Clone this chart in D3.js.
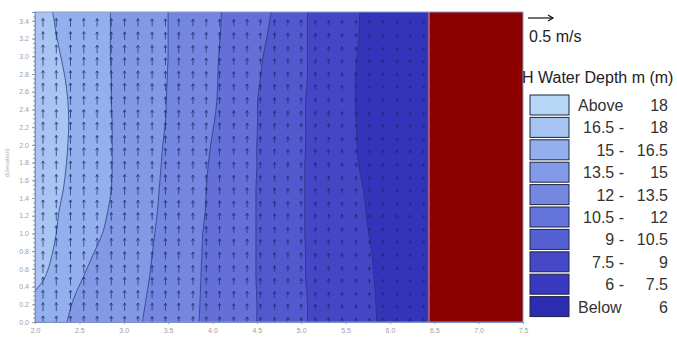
<!DOCTYPE html>
<html>
<head>
<meta charset="utf-8">
<script src="https://cdn.jsdelivr.net/npm/d3@7"></script>
<style>
  body { margin: 0; background: #fff; }
  svg { display: block; font-family: "Liberation Sans", Arial, sans-serif; }
</style>
</head>
<body>
<svg id="chart" width="677" height="337"></svg>
<script>
// elevation levels where contour positions were read
const yLevels = [0, 0.25, 0.5, 0.75, 1.0, 1.25, 1.5, 1.75, 2.0, 2.25, 2.5, 2.75, 3.0, 3.25, 3.5];

// x position of each contour (water depth) at the levels above
const c165 = [1.89, 1.94, 2.11, 2.19, 2.24, 2.27, 2.32, 2.35, 2.37, 2.38, 2.37, 2.34, 2.29, 2.24, 2.20];
const c15  = [2.36, 2.43, 2.54, 2.65, 2.76, 2.82, 2.86, 2.87, 2.87, 2.87, 2.86, 2.86, 2.85, 2.85, 2.85];
const c135 = [3.21, 3.25, 3.29, 3.32, 3.35, 3.38, 3.40, 3.42, 3.44, 3.47, 3.48, 3.49, 3.50, 3.50, 3.50];
const c12  = [3.85, 3.86, 3.87, 3.88, 3.89, 3.92, 3.93, 3.95, 3.98, 4.02, 4.05, 4.06, 4.07, 4.09, 4.10];
const c105 = [4.50, 4.50, 4.49, 4.49, 4.49, 4.49, 4.49, 4.50, 4.50, 4.51, 4.51, 4.54, 4.57, 4.62, 4.66];
const c9   = [5.07, 5.07, 5.05, 5.05, 5.04, 5.04, 5.04, 5.04, 5.05, 5.05, 5.05, 5.07, 5.07, 5.07, 5.07];
const c75  = [5.85, 5.84, 5.82, 5.80, 5.76, 5.73, 5.70, 5.65, 5.63, 5.62, 5.61, 5.61, 5.63, 5.65, 5.66];
const dryEdge = 6.44;

// bands between contours, from left (deep) to right
const bandColors = ["#a8c5f1", "#94b0ec", "#8399e6", "#7486df", "#6470d8", "#5259ce", "#4446c6", "#3434ba"];

// velocity vector grid
const vecX = [2.09, 2.24, 2.40, 2.55, 2.70, 2.86, 3.01, 3.16, 3.32, 3.47, 3.62, 3.78, 3.93, 4.08, 4.24,
              4.39, 4.54, 4.70, 4.85, 5.00, 5.16, 5.31, 5.46, 5.62, 5.77, 5.92, 6.08, 6.23, 6.38];
const vecSpeed = [0.17, 0.17, 0.17, 0.17, 0.16, 0.16, 0.16, 0.16, 0.15, 0.15, 0.15, 0.14, 0.14, 0.14, 0.13,
                  0.13, 0.12, 0.12, 0.11, 0.11, 0.10, 0.10, 0.09, 0.09, 0.08, 0.08, 0.07, 0.07, 0.06];
const vecY = [0.02, 0.17, 0.31, 0.46, 0.60, 0.75, 0.90, 1.04, 1.19, 1.33, 1.48, 1.62, 1.77, 1.92,
              2.06, 2.21, 2.35, 2.50, 2.65, 2.79, 2.94, 3.08, 3.23, 3.38];

const xTicks = [2.0, 2.5, 3.0, 3.5, 4.0, 4.5, 5.0, 5.5, 6.0, 6.5, 7.0, 7.5];
const yTicks = [0.0, 0.2, 0.4, 0.6, 0.8, 1.0, 1.2, 1.4, 1.6, 1.8, 2.0, 2.2, 2.4, 2.6, 2.8, 3.0, 3.2, 3.4];

const legendLo = ["Above", "16.5 -", "15 -", "13.5 -", "12 -", "10.5 -", "9 -", "7.5 -", "6 -", "Below"];
const legendHi = ["18", "18", "16.5", "15", "13.5", "12", "10.5", "9", "7.5", "6"];
const legendColors = ["#b6d6f5", "#a6c4f1", "#94b0ec", "#839be6", "#7488e0", "#6473da", "#5460d2", "#4549c8", "#383abe", "#2c2cb2"];

const svg = d3.select("#chart");
const x = d3.scaleLinear().domain([2, 7.5]).range([35, 523]);
const y = d3.scaleLinear().domain([0, 3.5]).range([322, 12]);

svg.append("defs").append("clipPath").attr("id", "plot")
  .append("rect")
  .attr("x", x(2)).attr("y", y(3.5))
  .attr("width", x(7.5) - x(2)).attr("height", y(0) - y(3.5));

const g = svg.append("g").attr("clip-path", "url(#plot)");

// base (deepest) band
g.append("rect")
  .attr("x", x(2)).attr("y", y(3.5))
  .attr("width", x(dryEdge) - x(2)).attr("height", y(0) - y(3.5))
  .attr("fill", bandColors[0]);

const contours = [c165, c15, c135, c12, c105, c9, c75];

const area = d3.area()
  .y(d => y(d[1]))
  .x0(d => x(d[0]))
  .x1(x(dryEdge))
  .curve(d3.curveCatmullRom);

const line = d3.line()
  .x(d => x(d[0]))
  .y(d => y(d[1]))
  .curve(d3.curveCatmullRom);

contours.forEach((c, i) => {
  const pts = c.map((v, j) => [v, yLevels[j]]);
  g.append("path")
    .attr("d", area(pts))
    .attr("fill", bandColors[i + 1]);
});

contours.forEach(c => {
  const pts = c.map((v, j) => [v, yLevels[j]]);
  g.append("path")
    .attr("d", line(pts))
    .attr("fill", "none")
    .attr("stroke", "#22307a")
    .attr("stroke-opacity", 0.7)
    .attr("stroke-width", 1);
});

// dry area
g.append("rect")
  .attr("x", x(dryEdge)).attr("y", y(3.5))
  .attr("width", x(7.5) - x(dryEdge)).attr("height", y(0) - y(3.5))
  .attr("fill", "#8c0000");
g.append("line")
  .attr("x1", x(dryEdge)).attr("x2", x(dryEdge))
  .attr("y1", y(3.5)).attr("y2", y(0))
  .attr("stroke", "#b86a8a").attr("stroke-width", 1.5);

// velocity vectors: 0.5 m/s = 25 px
const vlen = d3.scaleLinear().domain([0, 0.5]).range([0, 25]);
const vectors = [];
vecX.forEach((vx, i) => vecY.forEach(vy => vectors.push({ x: vx, y: vy, s: vecSpeed[i] })));

g.append("g").selectAll("path")
  .data(vectors)
  .join("path")
  .attr("d", d => {
    const cx = x(d.x), cy = y(d.y), L = vlen(d.s);
    const top = cy - L / 2, bot = cy + L / 2;
    return `M${cx},${bot}L${cx},${top}M${cx - 1.5},${top + 2.5}L${cx},${top}L${cx + 1.5},${top + 2.5}`;
  })
  .attr("fill", "none")
  .attr("stroke", "#1b2a6e")
  .attr("stroke-opacity", 0.7)
  .attr("stroke-width", 1);

// frame
svg.append("rect")
  .attr("x", x(2)).attr("y", y(3.5))
  .attr("width", x(7.5) - x(2)).attr("height", y(0) - y(3.5))
  .attr("fill", "none").attr("stroke", "#8a9ccc").attr("stroke-width", 1);

// axes
const xAxis = svg.append("g")
  .attr("transform", `translate(0,${y(0)})`)
  .call(d3.axisBottom(x).tickValues(xTicks).tickFormat(d3.format(".1f")).tickSize(2).tickPadding(4));
const yMinor = svg.append("g")
  .attr("transform", `translate(${x(2)},0)`)
  .call(d3.axisLeft(y).ticks(70).tickFormat("").tickSize(2));
const yAxis = svg.append("g")
  .attr("transform", `translate(${x(2)},0)`)
  .call(d3.axisLeft(y).tickValues(yTicks).tickFormat(d3.format(".1f")).tickSize(3).tickPadding(3));
[xAxis, yAxis, yMinor].forEach(a => {
  a.select(".domain").attr("stroke", "#7a8ec8");
  a.selectAll(".tick line").attr("stroke", "#999");
  a.selectAll("text").attr("fill", "#a0a0a0").attr("font-size", 7).attr("font-family", "Liberation Sans, Arial, sans-serif");
});

svg.append("text")
  .attr("transform", `translate(9,${y(1.8)}) rotate(-90)`)
  .attr("text-anchor", "middle")
  .attr("font-size", 6).attr("fill", "#aaa")
  .text("(Elevation)");

// legend
const lg = svg.append("g");
lg.append("line")
  .attr("x1", 528).attr("x2", 528 + vlen(0.5))
  .attr("y1", 18).attr("y2", 18)
  .attr("stroke", "#111").attr("stroke-width", 1.2);
lg.append("path")
  .attr("d", `M${528 + vlen(0.5) - 5},15L${528 + vlen(0.5)},18L${528 + vlen(0.5) - 5},21`)
  .attr("fill", "none").attr("stroke", "#111").attr("stroke-width", 1.2);
lg.append("text").attr("x", 529).attr("y", 42)
  .attr("font-size", 16).attr("fill", "#222").text("0.5 m/s");
lg.append("text").attr("x", 522).attr("y", 83)
  .attr("font-size", 16).attr("fill", "#222").text("H Water Depth m (m)");

const rows = lg.selectAll("g.row")
  .data(legendLo.map((lo, i) => ({ lo, hi: legendHi[i], c: legendColors[i], i })))
  .join("g").attr("class", "row")
  .attr("transform", d => `translate(0,${95 + d.i * 22.4})`);
rows.append("rect")
  .attr("x", 530).attr("y", 0).attr("width", 39).attr("height", 20)
  .attr("fill", d => d.c).attr("stroke", "#1e2440").attr("stroke-width", 1);
rows.append("text")
  .attr("x", d => (d.lo === "Above" || d.lo === "Below") ? 578 : 624)
  .attr("text-anchor", d => (d.lo === "Above" || d.lo === "Below") ? "start" : "end")
  .attr("y", 16).attr("font-size", 16).attr("fill", "#333")
  .text(d => d.lo);
rows.append("text")
  .attr("x", 668).attr("text-anchor", "end")
  .attr("y", 16).attr("font-size", 16).attr("fill", "#333")
  .text(d => d.hi);
</script>
</body>
</html>
